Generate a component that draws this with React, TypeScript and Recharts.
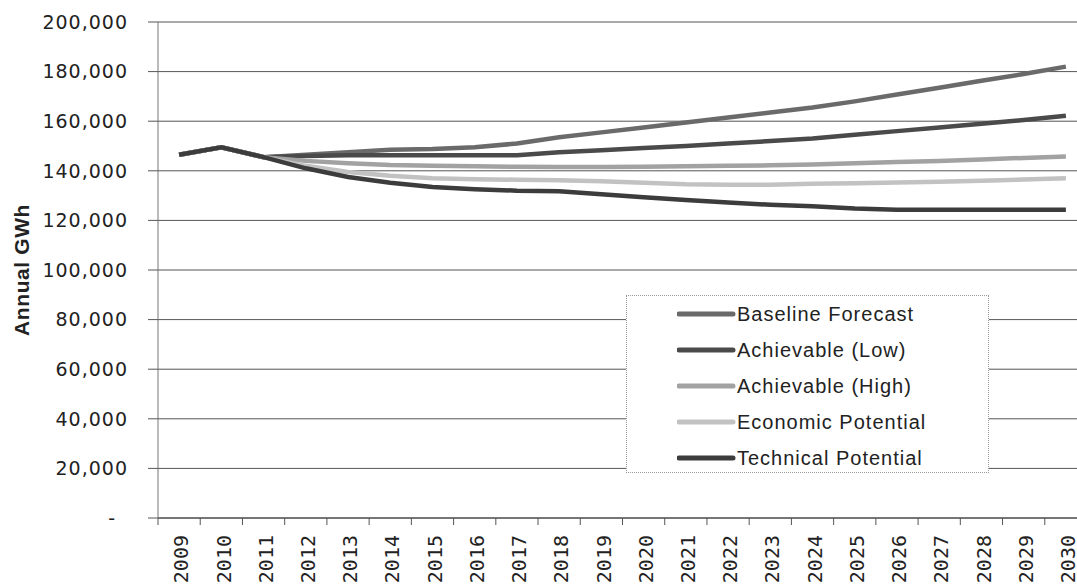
import React from 'react';
import { LineChart, Line, XAxis, YAxis, CartesianGrid, Legend } from 'recharts';

const years = [2009, 2010, 2011, 2012, 2013, 2014, 2015, 2016, 2017, 2018, 2019, 2020, 2021, 2022, 2023, 2024, 2025, 2026, 2027, 2028, 2029, 2030];

const baselineForecast = [146500, 149500, 145500, 146500, 147500, 148500, 148800, 149500, 151000, 153500, 155500, 157500, 159500, 161500, 163500, 165500, 168000, 170800, 173500, 176300, 179000, 182000];
const achievableLow = [146500, 149500, 145500, 146000, 146300, 146300, 146300, 146300, 146300, 147500, 148300, 149200, 150000, 151000, 152000, 153000, 154500, 156000, 157500, 159000, 160500, 162200];
const achievableHigh = [146500, 149500, 145500, 144000, 143000, 142300, 142000, 141800, 141600, 141500, 141500, 141600, 141800, 142000, 142200, 142500, 143000, 143500, 144000, 144600, 145200, 145800];
const economicPotential = [146500, 149500, 145500, 142000, 139500, 138000, 137000, 136600, 136400, 136200, 135800, 135200, 134600, 134400, 134400, 134800, 135000, 135300, 135600, 136000, 136500, 137000];
const technicalPotential = [146500, 149500, 145500, 141000, 137500, 135200, 133500, 132600, 132000, 131800, 130500, 129300, 128200, 127200, 126300, 125700, 124800, 124300, 124300, 124300, 124300, 124300];

const yTicks = [0, 20000, 40000, 60000, 80000, 100000, 120000, 140000, 160000, 180000, 200000];

const seriesNames = ['Baseline Forecast', 'Achievable (Low)', 'Achievable (High)', 'Economic Potential', 'Technical Potential'];
const seriesKeys = ['baseline', 'achLow', 'achHigh', 'economic', 'technical'];
const seriesColors = ['#6a6a6a', '#4a4a4a', '#a2a2a2', '#c2c2c2', '#3c3c3c'];

const data = years.map((y, i) => ({
  year: y,
  baseline: baselineForecast[i],
  achLow: achievableLow[i],
  achHigh: achievableHigh[i],
  economic: economicPotential[i],
  technical: technicalPotential[i],
}));

const xTicks = [...years.map((y) => y - 0.5), years[years.length - 1] + 0.5, ...years].sort((a, b) => a - b);

function XTick(props: any) {
  const { x, y, payload } = props;
  const v = payload.value;
  if (!Number.isInteger(v)) {
    return <line x1={x} x2={x} y1={y} y2={y + 7} stroke="#555" strokeWidth={1} />;
  }
  return (
    <text
      x={0}
      y={0}
      transform={`translate(${x + 2},${y + 17}) rotate(-90)`}
      textAnchor="end"
      dy="0.36em"
      fontFamily="DejaVu Sans Mono"
      fontSize={20}
      fill="#222"
    >
      {v}
    </text>
  );
}

function YTick(props: any) {
  const { x, y, payload } = props;
  const v = payload.value;
  const label = v === 0 ? '-' : v.toLocaleString('en-US');
  return (
    <text
      x={v === 0 ? x - 12 : x}
      y={y}
      textAnchor="end"
      dy="0.355em"
      fontFamily="DejaVu Sans"
      fontSize={19}
      letterSpacing={1}
      fill="#222"
    >
      {label}
    </text>
  );
}

function YLabel(props: any) {
  const { viewBox } = props;
  const cx = 29;
  const cy = viewBox.y + viewBox.height / 2;
  return (
    <text
      x={cx}
      y={cy}
      transform={`rotate(-90, ${cx}, ${cy})`}
      textAnchor="middle"
      fontFamily="Liberation Sans"
      fontWeight="bold"
      fontSize={21}
      letterSpacing={0.6}
      fill="#222"
    >
      Annual GWh
    </text>
  );
}

function LegendBox() {
  return (
    <div
      style={{
        width: 363,
        height: 178,
        boxSizing: 'border-box',
        border: '1px dotted #999',
        background: '#fff',
        position: 'relative',
      }}
    >
      {seriesNames.map((name, i) => (
        <div
          key={name}
          style={{
            position: 'absolute',
            left: 0,
            top: i * 36,
            height: 36,
            width: '100%',
          }}
        >
          <svg width={60} height={36} style={{ position: 'absolute', left: 50, top: 0 }}>
            <line x1={2} x2={56} y1={18} y2={18} stroke={seriesColors[i]} strokeWidth={5} strokeLinecap="round" />
          </svg>
          <span
            style={{
              position: 'absolute',
              left: 110,
              top: 0,
              lineHeight: '36px',
              fontFamily: 'Liberation Sans',
              fontSize: 20,
              letterSpacing: 1,
              color: '#222',
              whiteSpace: 'nowrap',
            }}
          >
            {name}
          </span>
        </div>
      ))}
    </div>
  );
}

export default function App() {
  return (
    <div
      style={{
        position: 'absolute',
        left: 0,
        top: 0,
        width: 1077,
        height: 586,
        overflow: 'hidden',
        background: '#fff',
      }}
    >
      <LineChart width={1090} height={586} data={data} margin={{ top: 22, right: 3, bottom: 0, left: 0 }}>
        <CartesianGrid vertical={false} stroke="#555" strokeWidth={1} />
        <XAxis
          dataKey="year"
          type="number"
          domain={[2008.5, 2030.5]}
          ticks={xTicks}
          interval={0}
          tick={<XTick />}
          tickLine={false}
          tickSize={0}
          tickMargin={0}
          height={68}
          axisLine={{ stroke: '#444', strokeWidth: 1 }}
          allowDecimals
        />
        <YAxis
          width={158}
          domain={[0, 200000]}
          ticks={yTicks}
          interval={0}
          tick={<YTick />}
          tickSize={10}
          tickMargin={20}
          tickLine={{ stroke: '#555' }}
          axisLine={{ stroke: '#777' }}
          label={<YLabel />}
        />
        <Legend
          layout="vertical"
          align="center"
          verticalAlign="middle"
          content={() => <LegendBox />}
          wrapperStyle={{ position: 'absolute', left: 626, top: 295, width: 363, height: 178 }}
        />
        {seriesKeys.map((k, i) => (
          <Line
            key={k}
            dataKey={k}
            name={seriesNames[i]}
            stroke={seriesColors[i]}
            strokeWidth={4.5}
            dot={false}
            activeDot={false}
            type="linear"
            isAnimationActive={false}
          />
        ))}
      </LineChart>
    </div>
  );
}
